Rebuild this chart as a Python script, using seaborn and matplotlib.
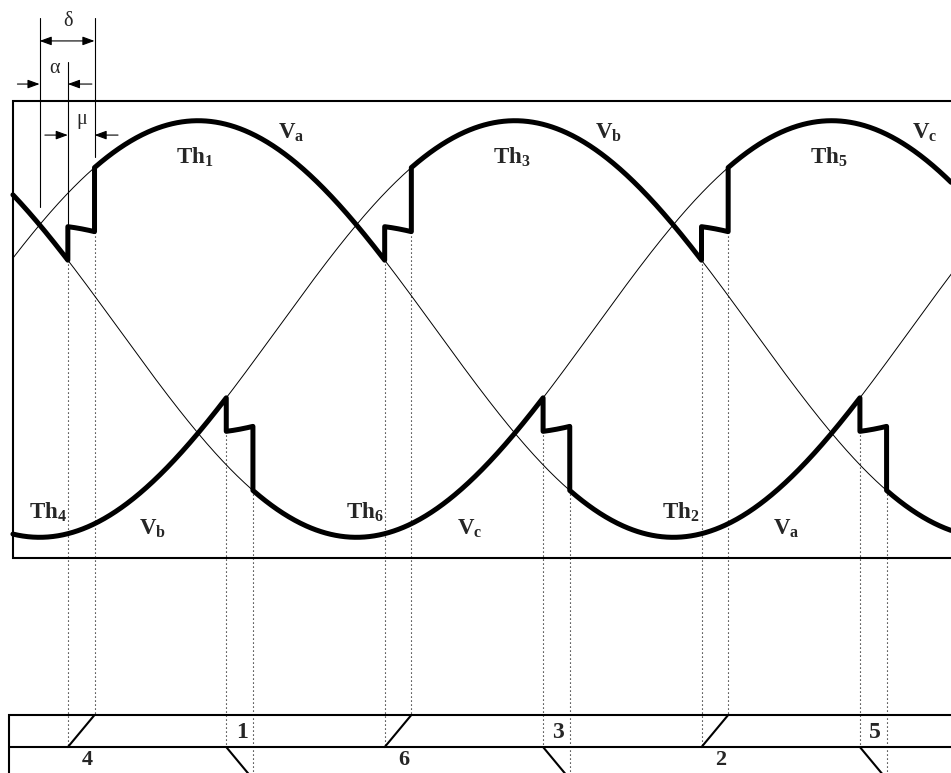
import numpy as np
import pandas as pd
import matplotlib
matplotlib.use("Agg")
import matplotlib.pyplot as plt
import seaborn as sns

# ---------------- data ----------------
phase_names = ["Va", "Vb", "Vc"]
phase_subs = ["a", "b", "c"]
phase_lag_deg = [0, 120, 240]          # Va = sin(t), Vb = sin(t-120), Vc = sin(t-240)
amplitude = 1.0
alpha_deg = 10.7                       # firing delay
mu_deg = 10.1                          # overlap angle

pos_natural_deg = [30, 150, 270]       # natural commutation, positive rail
pos_order = [2, 0, 1, 2]               # Vc -> Va -> Vb -> Vc
neg_natural_deg = [90, 210, 330]       # natural commutation, negative rail
neg_order = [1, 2, 0, 1]               # Vb -> Vc -> Va -> Vb

top_thyristors = ["1", "3", "5"]
top_phase_idx = [0, 1, 2]
bottom_thyristors = ["4", "6", "2"]
bottom_phase_idx = [1, 2, 0]
upper_row_numbers = ["1", "3", "5"]
lower_row_numbers = ["4", "6", "2"]

# ---------------- layout ----------------
theta_lim = (15.0, 375.2)
v_lim = (-2.1315, 1.5795)
box_left, box_right, box_v = 19.9, 400.0, 1.097
table_left, table_top, table_mid, table_bot = 18.4, -1.853, -2.007, -2.161
theta_hi = 380.0

sns.set_style("white")
plt.rcParams["font.family"] = ["Liberation Serif", "DejaVu Serif"]
plt.rcParams["mathtext.fontset"] = "custom"
plt.rcParams["mathtext.rm"] = "Liberation Serif"
plt.rcParams["mathtext.bf"] = "Liberation Serif:bold"
plt.rcParams["mathtext.it"] = "Liberation Serif:italic"

fig = plt.figure(figsize=(9.51, 7.73), dpi=100)
ax = fig.add_axes([0, 0, 1, 1])


def phase_v(p, th):
    return amplitude * np.sin(np.deg2rad(np.asarray(th, dtype=float) - phase_lag_deg[p]))


def rail(order, naturals, lo, hi):
    ths, vs = [], []
    n = len(naturals)
    for i, p in enumerate(order):
        start = lo if i == 0 else naturals[i - 1] + alpha_deg + mu_deg
        end = hi if i == n else naturals[i] + alpha_deg
        t = np.linspace(start, end, 300)
        ths.append(t)
        vs.append(phase_v(p, t))
        if i < n:
            t2 = np.linspace(naturals[i] + alpha_deg, naturals[i] + alpha_deg + mu_deg, 40)
            ths.append(t2)
            vs.append(0.5 * (phase_v(p, t2) + phase_v(order[i + 1], t2)))
    return np.concatenate(ths), np.concatenate(vs)


# thin phase voltages
grid = np.linspace(box_left, theta_hi, 900)
sine_df = pd.concat(
    [pd.DataFrame({"theta": grid, "v": phase_v(i, grid), "phase": nm}) for i, nm in enumerate(phase_names)],
    ignore_index=True,
)
sns.lineplot(data=sine_df, x="theta", y="v", hue="phase", palette=["black"] * 3,
             linewidth=0.7, legend=False, sort=False, estimator=None, ax=ax)

# thick rails
pt, pv = rail(pos_order, pos_natural_deg, box_left, theta_hi)
nt, nv = rail(neg_order, neg_natural_deg, box_left, theta_hi)
rail_df = pd.concat([
    pd.DataFrame({"theta": pt, "v": pv, "rail": "pos"}),
    pd.DataFrame({"theta": nt, "v": nv, "rail": "neg"}),
], ignore_index=True)
sns.lineplot(data=rail_df, x="theta", y="v", units="rail", estimator=None, sort=False,
             color="black", linewidth=3.6, legend=False, ax=ax)

# box
ax.plot([box_right, box_left, box_left, box_right], [box_v, box_v, -box_v, -box_v],
        color="black", lw=1.5, solid_joinstyle="miter")

# table
ax.plot([box_right, table_left, table_left], [table_top, table_top, v_lim[0] - 0.2], color="black", lw=1.5,
        solid_joinstyle="miter")
ax.plot([table_left, box_right], [table_mid, table_mid], color="black", lw=1.5)

dot_style = dict(color="black", lw=0.8, linestyle=(0, (1, 2.6)))

# commutation markers
for order, naturals, positive in [(pos_order, pos_natural_deg, True), (neg_order, neg_natural_deg, False)]:
    for i, n in enumerate(naturals):
        old, new = order[i], order[i + 1]
        tf = n + alpha_deg
        te = n + alpha_deg + mu_deg
        avg_f = 0.5 * (phase_v(old, tf) + phase_v(new, tf))
        avg_e = 0.5 * (phase_v(old, te) + phase_v(new, te))
        low_f = min(phase_v(old, tf), avg_f)
        low_e = min(phase_v(new, te), avg_e)
        if positive:
            ax.plot([tf, tf], [low_f, table_mid], **dot_style)
            ax.plot([te, te], [low_e, table_top], **dot_style)
            ax.plot([tf, te], [table_mid, table_top], color="black", lw=1.5)
        else:
            ax.plot([tf, tf], [low_f, table_mid], **dot_style)
            ax.plot([te, te], [low_e, v_lim[0] - 0.2], **dot_style)
            ax.plot([tf, te], [table_mid, table_bot], color="black", lw=1.5)

# alpha / mu / delta dimensioning (first commutation)
tn = pos_natural_deg[0]
tf = tn + alpha_deg
te = tf + mu_deg
avg_f_top = 0.5 * (phase_v(pos_order[0], tf) + phase_v(pos_order[1], tf))
ax.plot([tn, tn], [1.493, 0.586], color="black", lw=0.8)
ax.plot([tf, tf], [1.282, avg_f_top], color="black", lw=0.8)
ax.plot([te, te], [1.493, phase_v(pos_order[1], te) + 0.05], color="black", lw=0.8)

arrow = dict(arrowstyle="-|>,head_length=0.6,head_width=0.22", color="black", lw=0.8,
             shrinkA=0, shrinkB=0, mutation_scale=12)
darrow = dict(arrowstyle="<|-|>,head_length=0.6,head_width=0.22", color="black", lw=0.8,
              shrinkA=0, shrinkB=0, mutation_scale=12)
ax.annotate("", xy=(te, 1.383), xytext=(tn, 1.383), arrowprops=darrow)
ax.annotate("", xy=(tn, 1.176), xytext=(21.6, 1.176), arrowprops=arrow)
ax.annotate("", xy=(tf, 1.176), xytext=(49.8, 1.176), arrowprops=arrow)
ax.annotate("", xy=(tf, 0.931), xytext=(32.0, 0.931), arrowprops=arrow)
ax.annotate("", xy=(te, 0.931), xytext=(59.7, 0.931), arrowprops=arrow)
ax.text(40.6, 1.478, "δ", fontsize=14.5, ha="center", va="center")
ax.text(35.6, 1.250, "α", fontsize=14.5, ha="center", va="center")
ax.text(45.9, 1.005, "μ", fontsize=14.5, ha="center", va="center")

# labels
for k in range(3):
    ax.text(88.9 + 120 * k, 0.795, r"$\mathbf{Th_{%s}}$" % top_thyristors[k], fontsize=16.5,
            ha="center", va="baseline")
    ax.text(125.3 + 120 * k, 0.915, r"$\mathbf{V_{%s}}$" % phase_subs[top_phase_idx[k]], fontsize=16.5,
            ha="center", va="baseline")
    ax.text(33.0 + 120 * k, -0.909, r"$\mathbf{Th_{%s}}$" % bottom_thyristors[k], fontsize=16.5,
            ha="center", va="baseline")
    ax.text(72.8 + 120 * k, -0.989, r"$\mathbf{V_{%s}}$" % phase_subs[bottom_phase_idx[k]], fontsize=16.5,
            ha="center", va="baseline")
    ax.text(106.5 + 120 * k, -1.963, upper_row_numbers[k], fontsize=17, fontweight="bold",
            ha="center", va="baseline")
    ax.text(48.0 + 120 * k, -2.094, lower_row_numbers[k], fontsize=16, fontweight="bold",
            ha="center", va="baseline")

ax.set_xlim(*theta_lim)
ax.set_ylim(*v_lim)
ax.axis("off")
fig.savefig("out.png", dpi=100)
